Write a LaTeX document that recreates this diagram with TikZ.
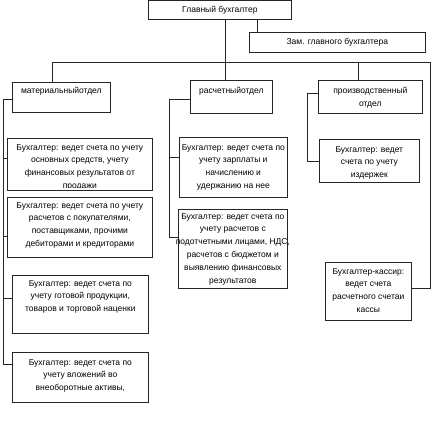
\documentclass[tikz,border=0pt]{standalone}
\usepackage{fontspec}
\setmainfont{Liberation Sans}
\usetikzlibrary{calc}
\newcommand\myfs{\fontsize{8.5}{12.8}\selectfont}
\newcommand\mybox[5]{\node[box, minimum width={#4-#2}, minimum height={#5-#3}] (#1) at (#2,#3) {};}
\begin{document}
\begin{tikzpicture}[x=1pt,y=-1pt,
  box/.style={draw=black!85, line width=0.7pt, inner sep=0pt, anchor=north west, fill=white},
  txt/.style={anchor=north, inner sep=0pt, align=center, font=\myfs, text=black},
  conn/.style={draw=black!85, line width=0.7pt}]
\useasboundingbox[fill=white] (0,0) rectangle (432,442);

% boxes
\mybox{main}{148}{0.3}{291}{19}
\mybox{zam}{249}{32}{425}{52}
\mybox{mat}{12}{82}{110}{112}
\mybox{rasch}{190}{80}{272}{113}
\mybox{proiz}{318}{80}{422}{113}
\mybox{mb1}{7}{138}{152}{190}
\mybox{mb2}{7}{197}{152}{257}
\mybox{mb3}{12}{275}{148}{333}
\mybox{mb4}{12}{352}{148}{402}
\mybox{rb1}{179}{137}{287}{197}
\mybox{rb2}{178}{209}{287}{288}
\mybox{pb1}{319}{139}{419}{182}
\mybox{kas}{325}{262}{411}{320}

% texts
\node[txt] (maint) at ($(main.north)+(0,5.5)$) {Главный бухгалтер};
\node[txt] (zamt) at ($(zam.north)+(0,6.5)$) {Зам. главного бухгалтера};
\node[txt] (matt) at ($(mat.north)+(0,5)$) {материальныйотдел};
\node[txt] (rascht) at ($(rasch.north)+(0,7)$) {расчетныйотдел};
\node[txt] (proizt) at ($(proiz.north)+(0,7)$) {производственный\\отдел};
\begin{scope}
\clip ($(mb1.north west)+(1,1)$) rectangle ($(mb1.south east)+(-1,-3)$);
\node[txt] (mb1t) at ($(mb1.north)+(0,6)$) {Бухгалтер: ведет счета по учету\\основных средств, учету\\финансовых результатов от\\продажи};
\end{scope}
\node[txt] (mb2t) at ($(mb2.north)+(0,5)$) {Бухгалтер: ведет счета по учету\\расчетов с покупателями,\\поставщиками, прочими\\дебиторами и кредиторами};
\node[txt] (mb3t) at ($(mb3.north)+(0,5)$) {Бухгалтер: ведет счета по\\учету готовой продукции,\\товаров и торговой наценки};
\node[txt] (mb4t) at ($(mb4.north)+(0,7)$) {Бухгалтер: ведет счета по\\учету вложений во\\внеоборотные активы,};
\node[txt] (rb1t) at ($(rb1.north)+(0,7)$) {Бухгалтер: ведет счета по\\учету зарплаты и\\начислению и\\удержанию на нее};
\node[txt] (rb2t) at ($(rb2.north)+(0,4)$) {Бухгалтер: ведет счета по\\учету расчетов с\\подотчетными лицами, НДС,\\расчетов с бюджетом и\\выявлению финансовых\\результатов};
\node[txt] (pb1t) at ($(pb1.north)+(0,7)$) {Бухгалтер: ведет\\счета по учету\\издержек};
\node[txt] (kast) at ($(kas.north)+(0,6)$) {Бухгалтер-кассир:\\ведет счета\\расчетного счетаи\\кассы};

% connector coordinates
\coordinate (tx) at (225,0);
\coordinate (zx) at (257,0);
\coordinate (busl) at (52,62);
\coordinate (busr) at (430,62);
\coordinate (px) at (358,62);
\coordinate (mx) at (3,0);
\coordinate (rx) at (169,0);
\coordinate (ppx) at (307,0);
\coordinate (ma) at ($(mat.north west)!0.57!(mat.south west)$);
\coordinate (m1) at ($(mb1.north west)!0.38!(mb1.south west)$);
\coordinate (m2) at ($(mb2.north west)!0.65!(mb2.south west)$);
\coordinate (m3) at ($(mb3.north west)!0.40!(mb3.south west)$);
\coordinate (m4) at ($(mb4.north west)!0.24!(mb4.south west)$);
\coordinate (ra) at ($(rasch.north west)!0.58!(rasch.south west)$);
\coordinate (r1) at ($(rb1.north west)!0.33!(rb1.south west)$);
\coordinate (r2) at ($(rb2.north west)!0.35!(rb2.south west)$);
\coordinate (pa) at ($(proiz.north west)!0.39!(proiz.south west)$);
\coordinate (ka) at ($(kas.north east)!0.45!(kas.south east)$);

% connectors
\draw[conn] (main.south -| tx) -- (rasch.north -| tx);
\draw[conn] (main.south -| zx) -- (zam.north -| zx);
\draw[conn] (mat.north -| busl) -- (busl) -- (busr) |- (ka);
\draw[conn] (px) -- (proiz.north -| px);
\draw[conn] (ma) -| (mx |- m4) -- (m4);
\foreach \c in {m1,m2,m3} \draw[conn] (mx |- \c) -- (\c);
\draw[conn] (ra) -| (rx |- r2) -- (r2);
\draw[conn] (rx |- r1) -- (r1);
\draw[conn] (pa) -| (ppx |- pb1.west) -- (pb1.west);
\end{tikzpicture}
\end{document}
